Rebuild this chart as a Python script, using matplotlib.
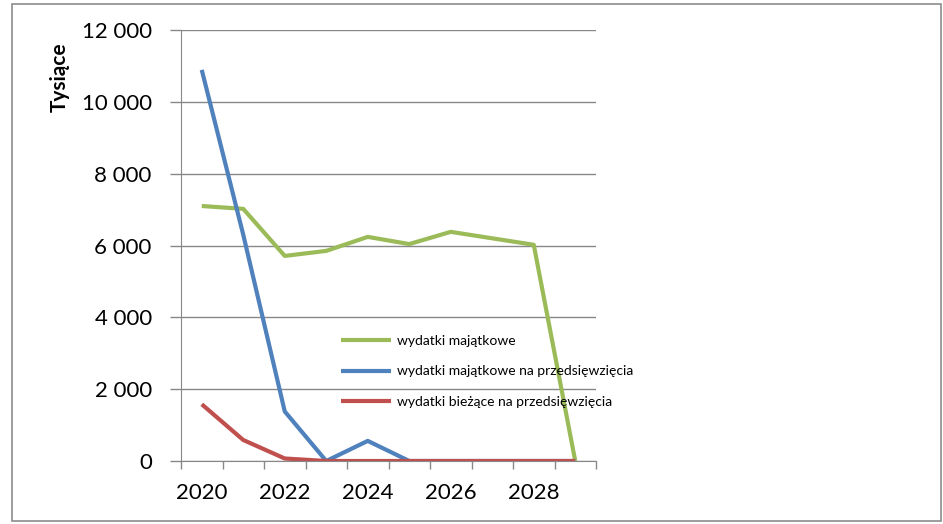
import matplotlib.pyplot as plt
import matplotlib.patches as patches
from matplotlib.ticker import FuncFormatter, FixedLocator

years = [2020, 2021, 2022, 2023, 2024, 2025, 2026, 2027, 2028, 2029]
majatkowe = [7100, 7020, 5710, 5850, 6240, 6040, 6380, 6200, 6020, 0]
majatkowe_przedsiewziecia = [10890, 6300, 1380, 0, 560, 0, 0, 0, 0, 0]
biezace_przedsiewziecia = [1580, 585, 70, 0, 0, 0, 0, 0, 0, 0]
labels = ["wydatki majątkowe",
          "wydatki majątkowe na przedsięwzięcia",
          "wydatki bieżące na przedsięwzięcia"]
colors = ["#9BBB59", "#4F81BD", "#C0504D"]

plt.rcParams['font.family'] = ['Lato', 'DejaVu Sans']

fig = plt.figure(figsize=(9.43, 5.24), dpi=100)
ax = fig.add_axes([181 / 943, 1 - 461 / 524, 415 / 943, 431 / 524])

# outer chart border
fig.patches.append(patches.Rectangle((12 / 943, 3 / 524), 929 / 943, 517 / 524,
                                     transform=fig.transFigure, fill=False,
                                     edgecolor="#8c8c8c", linewidth=1.2))

x = list(range(len(years)))
series = [majatkowe, majatkowe_przedsiewziecia, biezace_przedsiewziecia]
for vals, lab, col in zip(series, labels, colors):
    ax.plot(x, vals, color=col, linewidth=3, label=lab, solid_capstyle='butt')

ax.set_xlim(-0.5, len(years) - 0.5)
ax.set_ylim(0, 12000)
ax.set_yticks(range(0, 12001, 2000))
ax.yaxis.set_major_formatter(FuncFormatter(lambda v, p: f"{int(v):,}".replace(",", " ")))

# category axis: tick marks between categories, labels every other year
ax.xaxis.set_major_locator(FixedLocator([i - 0.5 for i in range(len(years) + 1)]))
ax.xaxis.set_major_formatter(FuncFormatter(lambda v, p: ""))
ax.xaxis.set_minor_locator(FixedLocator(x[::2]))
ax.set_xticklabels([str(y) for y in years[::2]], minor=True)
ax.tick_params(axis='x', which='minor', length=0, labelsize=16, pad=16)
ax.tick_params(axis='x', which='major', length=6, color="#888888", width=1)
ax.tick_params(axis='y', length=8, color="#888888", width=1, labelsize=16, pad=13)

ax.grid(axis='y', color="#888888", linewidth=1)
ax.set_axisbelow(True)
for s in ['top', 'right']:
    ax.spines[s].set_visible(False)
for s in ['left', 'bottom']:
    ax.spines[s].set_color("#888888")

# axis title sits at the top of the axis, as in the original
fig.text(60 / 943, 1 - 77 / 524, "Tysiące", rotation=90, fontsize=15,
         fontweight='bold', ha='center', va='center')

ax.legend(loc='upper left', bbox_to_anchor=(0.356, 0.322), frameon=False,
          fontsize=10, handlelength=3.6, labelspacing=1.35, handletextpad=0.4)

fig.savefig("out.png", dpi=100)
